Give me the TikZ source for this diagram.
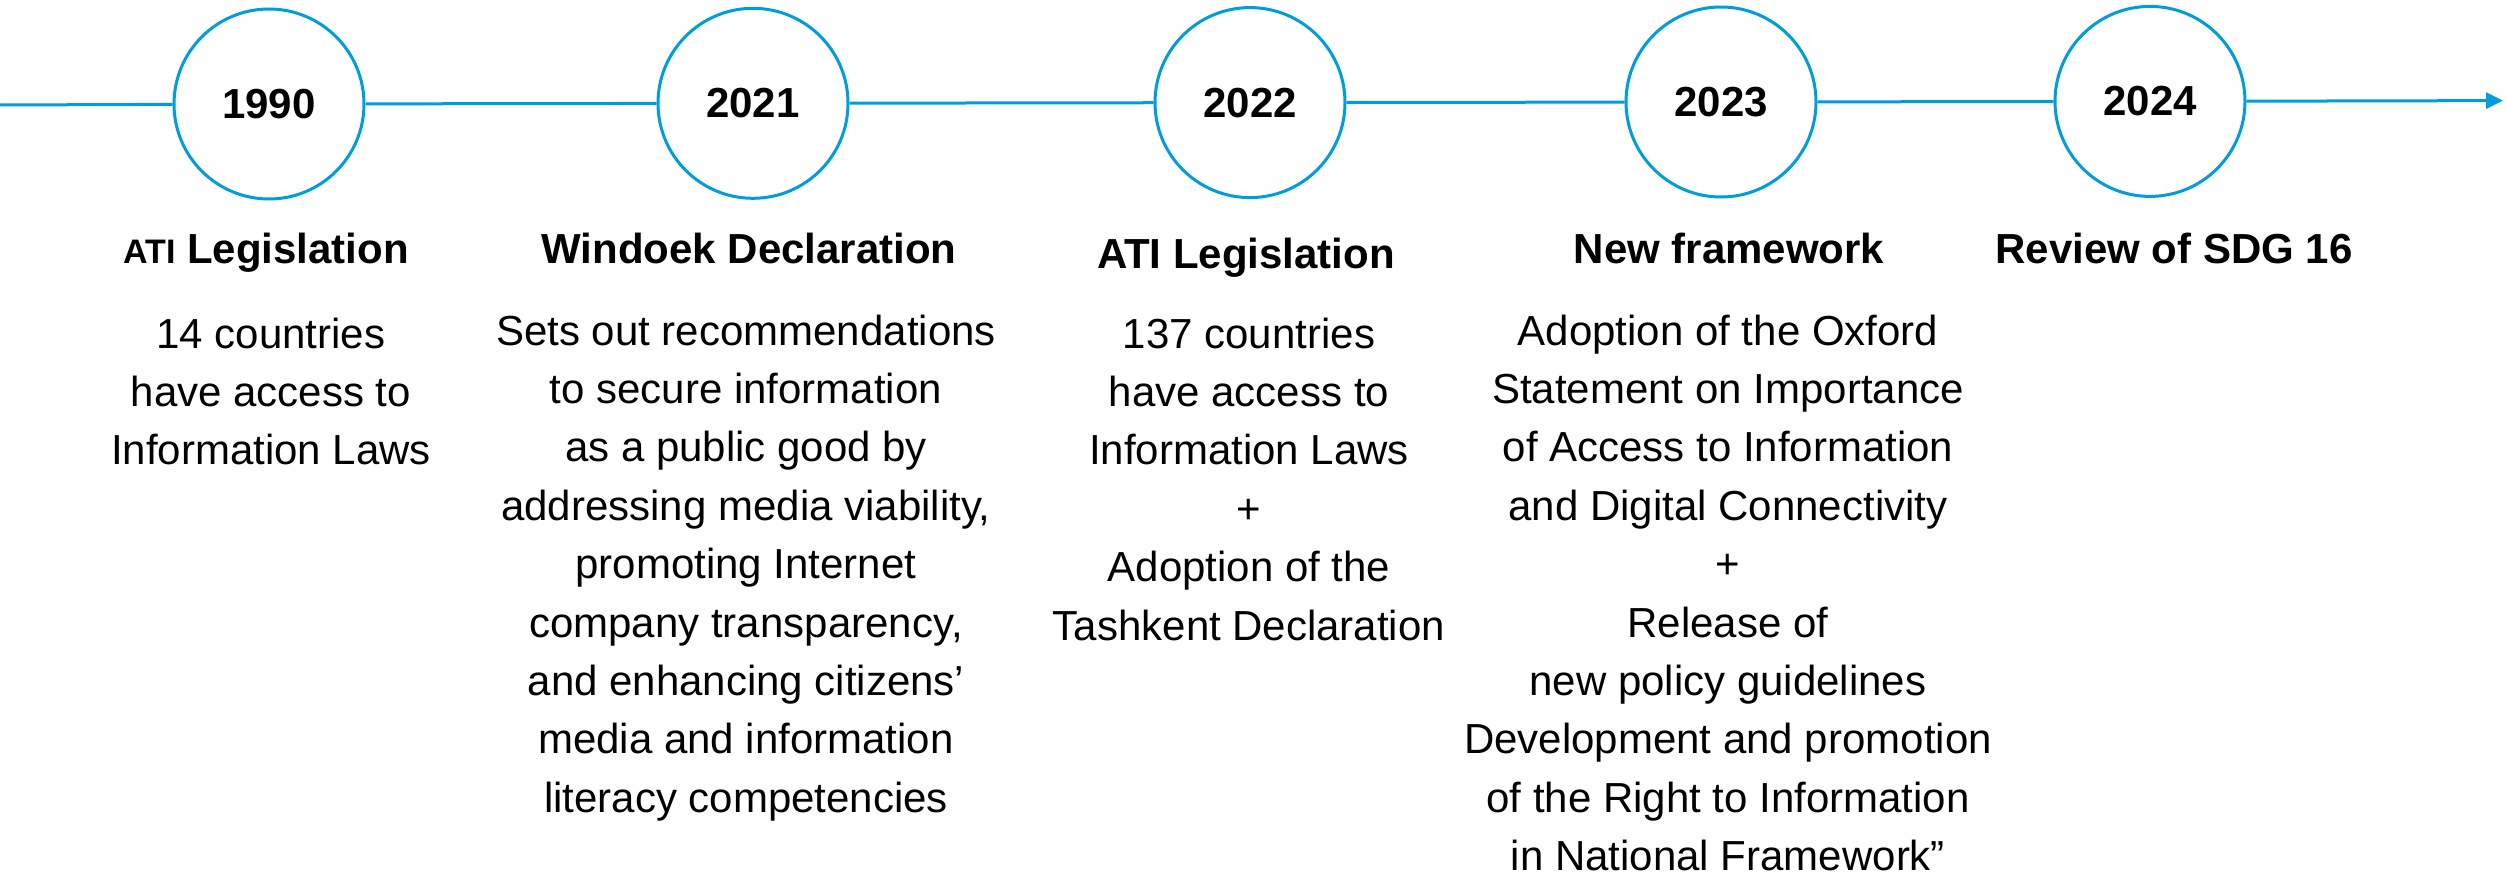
\documentclass[tikz,border=0pt]{standalone}
\usepackage{fontspec}
\setmainfont{Liberation Sans}
\usetikzlibrary{arrows.meta}
\definecolor{tlblue}{RGB}{0,157,219}
\begin{document}
\begin{tikzpicture}[x=0.5pt,y=-0.5pt,
  yearnode/.style={circle, draw=tlblue, line width=1.5pt, minimum size=95pt, inner sep=0pt,
    font=\fontsize{21pt}{25pt}\selectfont\bfseries},
  titlenode/.style={anchor=base, inner sep=0pt, font=\fontsize{21pt}{25pt}\selectfont\bfseries},
  bodynode/.style={anchor=base, inner sep=0pt, font=\fontsize{21pt}{29.2pt}\selectfont},
  conn/.style={draw=tlblue, line width=1.5pt}]
\useasboundingbox (0,0) rectangle (2506,878);
% timeline circles
\node[yearnode] (y1990) at (269,104) {1990};
\node[yearnode] (y2021) at (753,103.3) {2021};
\node[yearnode] (y2022) at (1250,102.6) {2022};
\node[yearnode] (y2023) at (1721,102) {2023};
\node[yearnode] (y2024) at (2150,101.4) {2024};
\coordinate (tstart) at (0,105);
\coordinate (tend) at (2503,100.6);
% connectors
\draw[conn] (tstart) -- (y1990);
\draw[conn] (y1990) -- (y2021);
\draw[conn] (y2021) -- (y2022);
\draw[conn] (y2022) -- (y2023);
\draw[conn] (y2023) -- (y2024);
\draw[conn, -{Triangle[length=8.5pt,width=8pt]}] (y2024) -- (tend);
% titles
\node[titlenode] (t1990) at (266,263) {{\fontsize{17pt}{20pt}\selectfont ATI} Legislation};
\node[titlenode] (t2021) at (749,263) {Windoek Declaration};
\node[titlenode] (t2022) at (1246,268) {ATI Legislation};
\node[titlenode] (t2023) at (1729,263) {New framework};
\node[titlenode] (t2024) at (2174,263) {Review of SDG 16};
% bodies
\node[bodynode] (b1990) at (271,348) {\begin{tabular}[t]{@{}c@{}}14 countries\\have access to\\Information Laws\end{tabular}};
\node[bodynode] (b2021) at (746,345) {\begin{tabular}[t]{@{}c@{}}Sets out recommendations\\to secure information\\as a public good by\\addressing media viability,\\promoting Internet\\company transparency,\\and enhancing citizens’\\media and information\\literacy competencies\end{tabular}};
\node[bodynode] (b2022) at (1249,348) {\begin{tabular}[t]{@{}c@{}}137 countries\\have access to\\Information Laws\\+\\Adoption of the\\Tashkent Declaration\end{tabular}};
\node[bodynode] (b2023) at (1728,345) {\begin{tabular}[t]{@{}c@{}}Adoption of the Oxford\\Statement on Importance\\of Access to Information\\and Digital Connectivity\\+\\Release of\\new policy guidelines\\Development and promotion\\of the Right to Information\\in National Framework”\end{tabular}};
\end{tikzpicture}
\end{document}
